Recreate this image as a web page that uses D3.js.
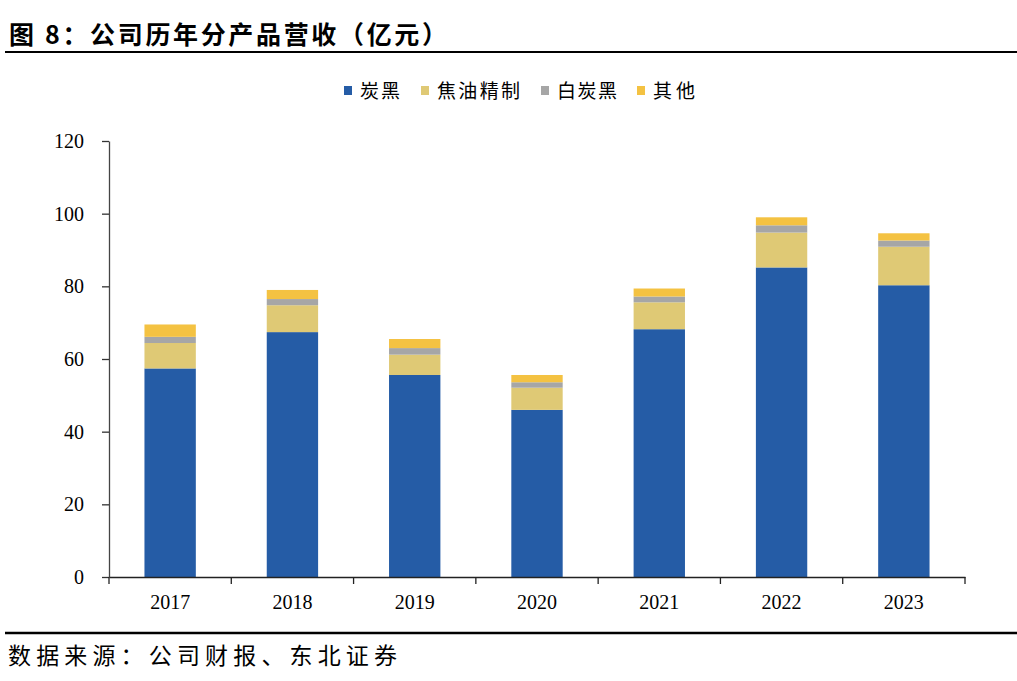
<!DOCTYPE html>
<html>
<head>
<meta charset="utf-8">
<script src="https://cdn.jsdelivr.net/npm/d3@7"></script>
<style>
  body { margin: 0; background: #fff; }
  svg { display: block; }
</style>
</head>
<body>
<svg width="1017" height="681"></svg>
<script>
// data (亿元)
var years = ['2017', '2018', '2019', '2020', '2021', '2022', '2023'];
var carbonBlack = [57.4, 67.4, 55.6, 46.0, 68.2, 85.2, 80.3];
var tarOil = [7.0, 7.4, 5.6, 6.1, 7.4, 9.6, 10.6];
var whiteCarbon = [1.7, 1.7, 1.8, 1.5, 1.6, 2.0, 1.7];
var others = [3.4, 2.5, 2.5, 2.0, 2.2, 2.2, 2.0];
var seriesNames = ['炭黑', '焦油精制', '白炭黑', '其他'];
var yTicks = [0, 20, 40, 60, 80, 100, 120];

var colors = ['#255ca6', '#dfc975', '#a6a6a6', '#f4c242'];

var svg = d3.select('svg');

// title + rules
svg.append('text')
    .attr('x', 9)
    .attr('y', 44)
    .attr('font-family', 'Noto Sans CJK SC')
    .attr('font-weight', 'bold')
    .attr('font-size', 25)
    .attr('textLength', 438)
    .attr('lengthAdjust', 'spacing')
    .text('图 8：公司历年分产品营收（亿元）');

svg.append('line')
    .attr('x1', 5).attr('x2', 1017)
    .attr('y1', 52).attr('y2', 52)
    .attr('stroke', '#000').attr('stroke-width', 2);

svg.append('line')
    .attr('x1', 5).attr('x2', 1017)
    .attr('y1', 633).attr('y2', 633)
    .attr('stroke', '#000').attr('stroke-width', 2.5);

svg.append('text')
    .attr('x', 8)
    .attr('y', 664)
    .attr('font-family', 'Noto Sans CJK SC')
    .attr('font-size', 23)
    .attr('textLength', 389)
    .attr('lengthAdjust', 'spacing')
    .text('数据来源：公司财报、东北证券');

// scales
var x = d3.scaleBand()
    .domain(years)
    .range([109, 965])
    .paddingInner(0.58)
    .paddingOuter(0.29);

var y = d3.scaleLinear()
    .domain([0, 120])
    .range([577, 141]);

// stacked data
var table = years.map(function(yr, i) {
    return { year: yr, s0: carbonBlack[i], s1: tarOil[i], s2: whiteCarbon[i], s3: others[i] };
});
var stack = d3.stack().keys(['s0', 's1', 's2', 's3'])(table);

svg.append('g')
    .selectAll('g')
    .data(stack)
    .enter().append('g')
    .attr('fill', function(d, i) { return colors[i]; })
    .selectAll('rect')
    .data(function(d) { return d; })
    .enter().append('rect')
    .attr('x', function(d) { return x(d.data.year); })
    .attr('width', x.bandwidth())
    .attr('y', function(d) { return y(d[1]); })
    .attr('height', function(d) { return y(d[0]) - y(d[1]); });

// y axis
var yAxis = d3.axisLeft(y)
    .tickValues(yTicks)
    .tickSize(7)
    .tickPadding(18)
    .tickSizeOuter(0);

var gy = svg.append('g')
    .attr('class', 'y axis')
    .attr('transform', 'translate(109,0)')
    .call(yAxis);
gy.select('.domain').attr('stroke', '#444').attr('stroke-width', 1.3);
gy.selectAll('.tick line').attr('stroke', '#333').attr('stroke-width', 1.3);
gy.selectAll('.tick text')
    .attr('font-family', 'Liberation Serif')
    .attr('font-size', 20)
    .attr('fill', '#000');

// x axis: ticks at band boundaries
var xAxis = d3.axisBottom(x)
    .tickSize(0)
    .tickPadding(18)
    .tickSizeOuter(0);

var gx = svg.append('g')
    .attr('class', 'x axis')
    .attr('transform', 'translate(0,577)')
    .call(xAxis);
gx.select('.domain').attr('stroke', '#222').attr('stroke-width', 1.3);
gx.selectAll('.tick text')
    .attr('font-family', 'Liberation Serif')
    .attr('font-size', 20)
    .attr('fill', '#000');

var step = x.step();
var bounds = years.map(function(yr) { return x(yr) - (step - x.bandwidth()) / 2; });
bounds.push(965);
gx.selectAll('line.sep')
    .data(bounds)
    .enter().append('line')
    .attr('class', 'sep')
    .attr('x1', function(d) { return d; })
    .attr('x2', function(d) { return d; })
    .attr('y1', 0).attr('y2', 7)
    .attr('stroke', '#222').attr('stroke-width', 1.3);

// legend
var legendPos = [
    { sq: 344, tx: 360, w: 40 },
    { sq: 421, tx: 437, w: 83 },
    { sq: 541, tx: 557, w: 60 },
    { sq: 637, tx: 653, w: 42 }
];
var legend = svg.append('g').attr('class', 'legend');
seriesNames.forEach(function(name, i) {
    legend.append('rect')
        .attr('x', legendPos[i].sq)
        .attr('y', 86)
        .attr('width', 8)
        .attr('height', 9)
        .attr('fill', colors[i]);
    legend.append('text')
        .attr('x', legendPos[i].tx)
        .attr('y', 98)
        .attr('font-family', 'Noto Sans CJK SC')
        .attr('font-size', 19)
        .attr('textLength', legendPos[i].w)
        .attr('lengthAdjust', 'spacing')
        .text(name);
});
</script>
</body>
</html>
